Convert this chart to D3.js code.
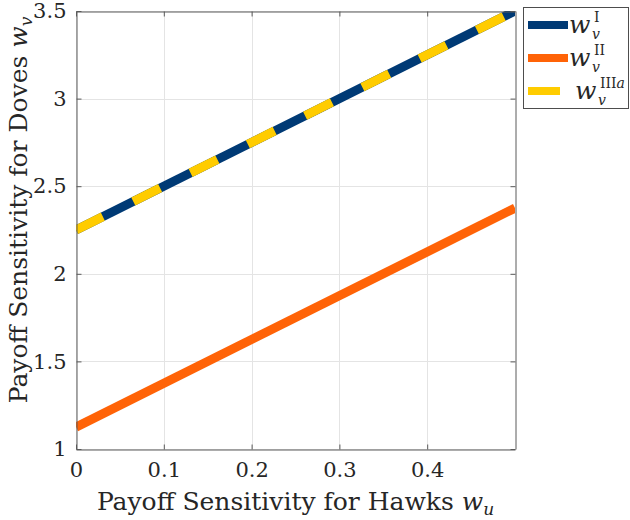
<!DOCTYPE html>
<html>
<head>
<meta charset="utf-8">
<script src="https://cdn.jsdelivr.net/npm/d3@7"></script>
<style>
  body { margin: 0; background: #fff; }
  svg text { font-family: "DejaVu Serif", serif; fill: #262626; }
</style>
</head>
<body>
<div id="chart"></div>
<script>
// ── Data ────────────────────────────────────────────
const wuValues   = [0, 0.5];
const wvI        = [2.25, 3.5];
const wvII       = [1.125, 2.375];
const wvIIIa     = [2.25, 3.5];
const xTicks     = [0, 0.1, 0.2, 0.3, 0.4];
const yTicks     = [1, 1.5, 2, 2.5, 3, 3.5];

const series = [
  { key: "I",    values: wvI,    color: "#003a75", dash: null },
  { key: "II",   values: wvII,   color: "#ff6307", dash: null },
  { key: "IIIa", values: wvIIIa, color: "#ffcc00", dash: "30,34" }
];

// ── Layout ──────────────────────────────────────────
const W = 630, H = 520;
const plot = { left: 76, top: 11, right: 515, bottom: 449 };
const FONT = "DejaVu Serif";

const svg = d3.select("#chart").append("svg")
  .attr("width", W).attr("height", H);

const x = d3.scaleLinear().domain([0, 0.5]).range([plot.left, plot.right]);
const y = d3.scaleLinear().domain([1, 3.5]).range([plot.bottom, plot.top]);

// grid
const grid = svg.append("g").attr("stroke", "#e4e4e4").attr("stroke-width", 1);
xTicks.forEach(t => grid.append("line")
  .attr("x1", Math.round(x(t)) + 0.5).attr("x2", Math.round(x(t)) + 0.5)
  .attr("y1", plot.top).attr("y2", plot.bottom));
yTicks.forEach(t => grid.append("line")
  .attr("y1", Math.round(y(t)) + 0.5).attr("y2", Math.round(y(t)) + 0.5)
  .attr("x1", plot.left).attr("x2", plot.right));

// clip
svg.append("clipPath").attr("id", "clip")
  .append("rect")
  .attr("x", plot.left).attr("y", plot.top)
  .attr("width", plot.right - plot.left).attr("height", plot.bottom - plot.top);

const line = d3.line()
  .x((d, i) => x(wuValues[i]))
  .y(d => y(d));

const lines = svg.append("g").attr("clip-path", "url(#clip)");
series.forEach(s => {
  lines.append("path")
    .attr("d", line(s.values))
    .attr("fill", "none")
    .attr("stroke", s.color)
    .attr("stroke-width", 9)
    .attr("stroke-dasharray", s.dash);
});

// axes (box with inward ticks)
const tickLen = 5;
const axisColor = "#5a5a5a";
const styleTicks = g => g.selectAll(".tick text")
  .attr("font-size", 21).attr("font-family", FONT).attr("fill", "#262626");

svg.append("g")
  .attr("transform", `translate(0,${plot.bottom + 0.5})`)
  .call(d3.axisBottom(x).tickValues(xTicks).tickSizeInner(-tickLen).tickSizeOuter(0)
    .tickFormat(d => d === 0 ? "0" : d3.format(".1f")(d)).tickPadding(13))
  .call(g => g.select(".domain").attr("stroke", axisColor))
  .call(g => g.selectAll(".tick line").attr("stroke", axisColor))
  .call(styleTicks);

svg.append("g")
  .attr("transform", `translate(0,${plot.top + 0.5})`)
  .call(d3.axisTop(x).tickValues(xTicks).tickSizeInner(-tickLen).tickSizeOuter(0).tickFormat(""))
  .call(g => g.select(".domain").attr("stroke", axisColor))
  .call(g => g.selectAll(".tick line").attr("stroke", axisColor));

svg.append("g")
  .attr("transform", `translate(${plot.left + 0.5},0)`)
  .call(d3.axisLeft(y).tickValues(yTicks).tickSizeInner(-tickLen).tickSizeOuter(0)
    .tickFormat(d3.format("~g")).tickPadding(10))
  .call(g => g.select(".domain").attr("stroke", axisColor))
  .call(g => g.selectAll(".tick line").attr("stroke", axisColor))
  .call(styleTicks);

svg.append("g")
  .attr("transform", `translate(${plot.right + 0.5},0)`)
  .call(d3.axisRight(y).tickValues(yTicks).tickSizeInner(-tickLen).tickSizeOuter(0).tickFormat(""))
  .call(g => g.select(".domain").attr("stroke", axisColor))
  .call(g => g.selectAll(".tick line").attr("stroke", axisColor));

// axis titles
const xt = svg.append("text")
  .attr("x", (plot.left + plot.right) / 2).attr("y", 510)
  .attr("text-anchor", "middle").attr("font-size", 25);
xt.append("tspan").text("Payoff Sensitivity for Hawks ");
xt.append("tspan").attr("font-style", "italic").text("w");
xt.append("tspan").attr("font-style", "italic").attr("font-size", 17).attr("dy", 5).text("u");

const yt = svg.append("text")
  .attr("transform", `translate(27,210) rotate(-90)`)
  .attr("text-anchor", "middle").attr("font-size", 25);
yt.append("tspan").text("Payoff Sensitivity for Doves ");
yt.append("tspan").attr("font-style", "italic").text("w");
yt.append("tspan").attr("font-style", "italic").attr("font-size", 17).attr("dy", 5).text("v");

// legend
const legend = svg.append("g");
legend.append("rect")
  .attr("x", 523.5).attr("y", 7.5).attr("width", 105).attr("height", 101)
  .attr("fill", "#fff").attr("stroke", "#4d4d4d").attr("stroke-width", 1);

const legendY = [25, 58, 91];
series.forEach((s, i) => {
  const cy = legendY[i];
  legend.append("line")
    .attr("x1", 528).attr("x2", s.dash ? 560 : 568)
    .attr("y1", cy).attr("y2", cy)
    .attr("stroke", s.color).attr("stroke-width", 8);
  const lx = s.dash ? 575 : 569;
  legend.append("text")
    .attr("x", lx).attr("y", cy + 8)
    .attr("font-size", 25).attr("font-style", "italic").text("w");
  const sup = legend.append("text")
    .attr("x", lx + 25).attr("y", cy - 3)
    .attr("font-size", 14);
  if (s.key === "IIIa") {
    sup.append("tspan").text("III");
    sup.append("tspan").attr("font-style", "italic").text("a");
  } else {
    sup.text(s.key);
  }
  legend.append("text")
    .attr("x", lx + 23).attr("y", cy + 13.5)
    .attr("font-size", 14).attr("font-style", "italic").text("v");
});
</script>
</body>
</html>
